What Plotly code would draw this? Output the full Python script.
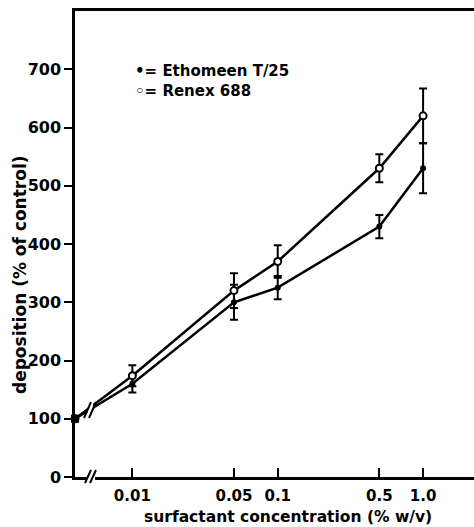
import math
import plotly.graph_objects as go

# ---- data ----
concentrations = [0.01, 0.05, 0.1, 0.5, 1.0]
tick_labels = ["0.01", "0.05", "0.1", "0.5", "1.0"]
control_value = 100
ethomeen = [160, 300, 325, 430, 530]
ethomeen_err = [15, 30, 20, 20, 43]
renex = [174, 320, 370, 530, 620]
renex_err = [18, 30, 28, 24, 47]
y_ticks = [0, 100, 200, 300, 400, 500, 600, 700]

CONTROL_X = 0.00403  # position of the (broken) origin of the log axis
X_MAX = 2.24

W, H = 474, 527
ML, MR, MT, MB = 75, 0, 11, 50
PW, PH = W - ML - MR, H - MT - MB

def px(x):
    return (x - ML) / PW

def py(y):
    return (MT + PH - y) / PH

FONT = "DejaVu Sans"

fig = go.Figure()

xs = [CONTROL_X] + concentrations
fig.add_trace(go.Scatter(
    x=xs, y=[control_value] + ethomeen,
    mode="lines+markers",
    line=dict(color="black", width=2.5),
    marker=dict(symbol="circle", size=6, color="black"),
    error_y=dict(type="data", array=[0] + ethomeen_err, color="black", thickness=2, width=4),
    showlegend=False,
))
fig.add_trace(go.Scatter(
    x=xs, y=[control_value] + renex,
    mode="lines+markers",
    line=dict(color="black", width=2.5),
    marker=dict(symbol="circle", size=7, color="white", line=dict(color="black", width=2)),
    error_y=dict(type="data", array=[0] + renex_err, color="black", thickness=2, width=4),
    showlegend=False,
))
# control point
fig.add_trace(go.Scatter(
    x=[CONTROL_X], y=[control_value], mode="markers",
    marker=dict(symbol="square", size=8, color="black"),
    showlegend=False, cliponaxis=False,
))

shapes = []
# break on the x axis
shapes.append(dict(type="rect", xref="paper", yref="paper",
                   x0=px(87), x1=px(95), y0=py(481), y1=py(472),
                   fillcolor="white", line=dict(width=0), layer="above"))
for dx in (0, 5):
    shapes.append(dict(type="line", xref="paper", yref="paper",
                       x0=px(85 + dx), y0=py(483), x1=px(91 + dx), y1=py(470),
                       line=dict(color="black", width=2), layer="above"))
# break on the data lines
shapes.append(dict(type="rect", xref="paper", yref="paper",
                   x0=px(88), x1=px(93), y0=py(415), y1=py(400),
                   fillcolor="white", line=dict(width=0), layer="above"))
for dx in (0, 5):
    shapes.append(dict(type="line", xref="paper", yref="paper",
                       x0=px(84 + dx), y0=py(418), x1=px(91 + dx), y1=py(402),
                       line=dict(color="black", width=2), layer="above"))

annotations = [
    dict(text="<b>•= Ethomeen T/25</b>", xref="paper", yref="paper",
         x=px(133), y=py(71), xanchor="left", yanchor="middle", showarrow=False,
         font=dict(family=FONT, size=15, color="black")),
    dict(text="<b>◦= Renex 688</b>", xref="paper", yref="paper",
         x=px(133), y=py(91), xanchor="left", yanchor="middle", showarrow=False,
         font=dict(family=FONT, size=15, color="black")),
    dict(text="<b>deposition (% of control)</b>", xref="paper", yref="paper",
         x=px(20), y=py(275), xanchor="center", yanchor="middle", textangle=-90,
         showarrow=False, font=dict(family=FONT, size=17, color="black")),
    dict(text="<b>surfactant concentration (% w/v)</b>", xref="paper", yref="paper",
         x=px(288), y=py(517), xanchor="center", yanchor="middle",
         showarrow=False, font=dict(family=FONT, size=15.5, color="black")),
]

fig.update_layout(
    width=W, height=H,
    margin=dict(l=ML, r=MR, t=MT, b=MB),
    paper_bgcolor="white", plot_bgcolor="white",
    font=dict(family=FONT, color="black"),
    shapes=shapes, annotations=annotations,
    xaxis=dict(
        type="log",
        range=[math.log10(CONTROL_X), math.log10(X_MAX)],
        tickvals=concentrations, ticktext=tick_labels,
        ticks="inside", ticklen=9, tickwidth=2, tickcolor="black",
        showline=True, linecolor="black", linewidth=2.5, mirror=True,
        showgrid=False, zeroline=False,
        ticklabelstandoff=3,
        tickfont=dict(family=FONT, size=15, color="black", weight="bold"),
    ),
    yaxis=dict(
        range=[0, 800],
        tickvals=y_ticks,
        ticks="outside", ticklen=8, tickwidth=2, tickcolor="black",
        showline=True, linecolor="black", linewidth=2.5,
        showgrid=False, zeroline=False,
        tickfont=dict(family=FONT, size=16, color="black", weight="bold"),
    ),
)

fig.write_html("out.html")
